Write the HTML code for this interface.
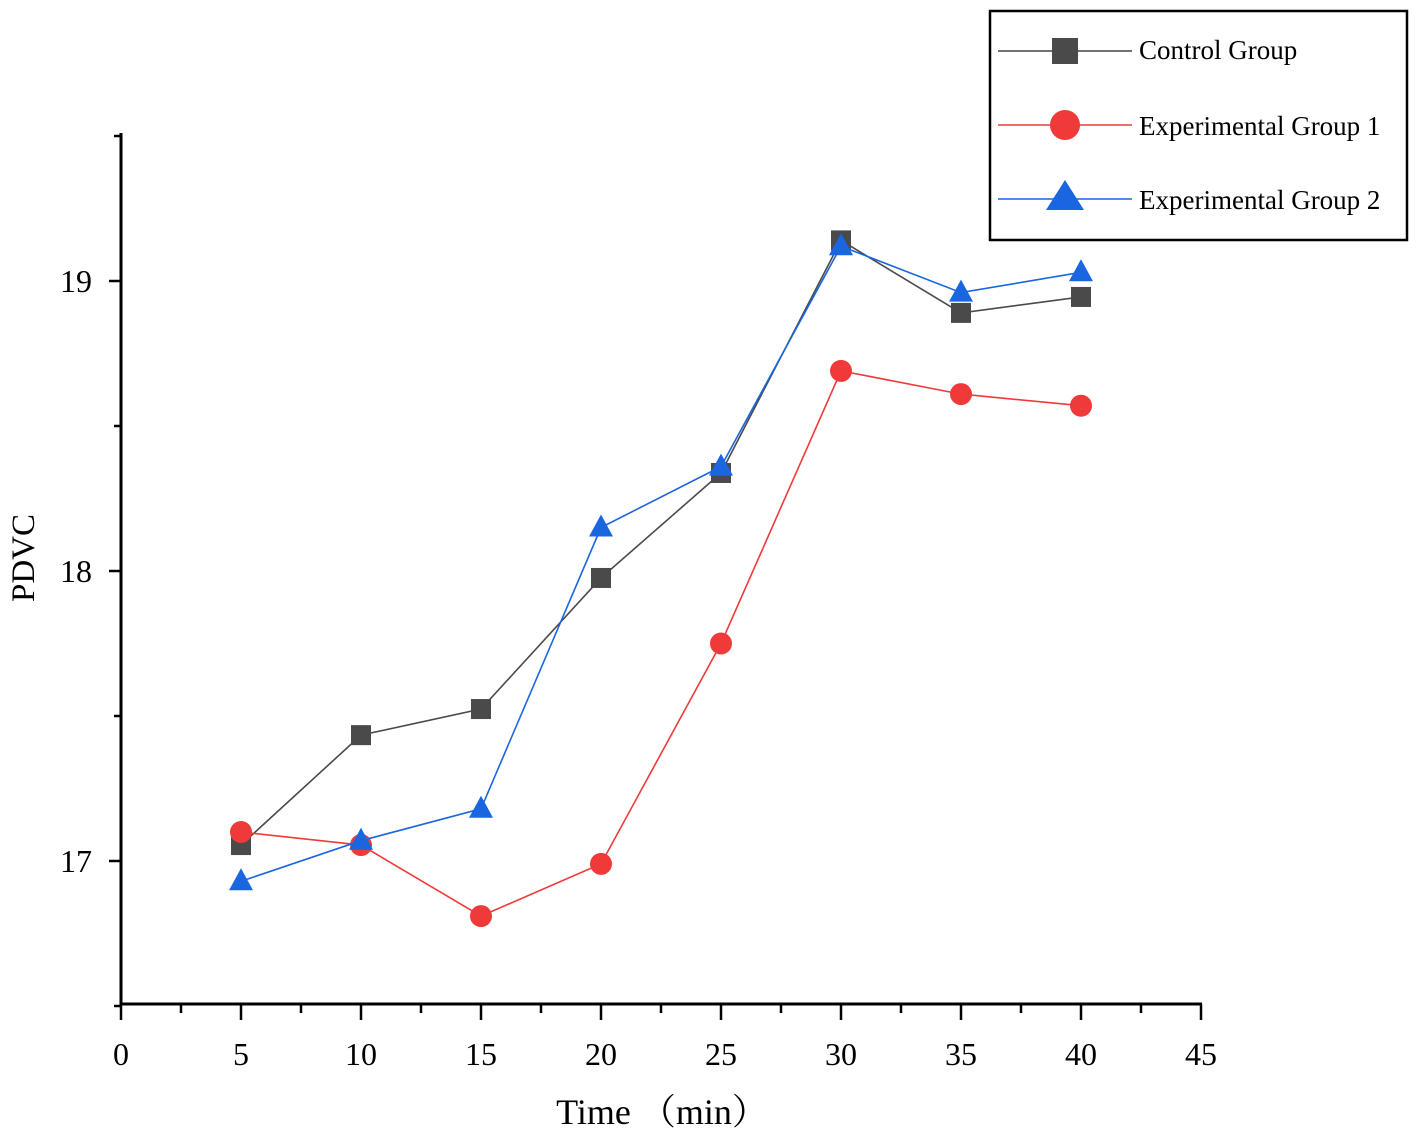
<!DOCTYPE html>
<html><head><meta charset="utf-8"><style>
body{margin:0;background:#fff}
svg{display:block;font-family:"Liberation Serif","Noto Serif CJK SC",serif}
</style></head><body>
<svg id="chart" width="1417" height="1139" viewBox="0 0 1417 1139" xmlns="http://www.w3.org/2000/svg">
<g id="axes"></g>
<g id="series"></g>
<text x="34" y="558" font-size="33" text-anchor="middle" transform="rotate(-90 34 558)">PDVC</text>
<text x="662" y="1124" font-size="36" text-anchor="middle">Time （min）</text>
<g>
<rect x="990" y="11" width="417" height="229" fill="#fff" stroke="#000" stroke-width="2.5"/>
<g>
<line x1="998" y1="51" x2="1132" y2="51" stroke="#444" stroke-width="1.5"/>
<rect x="1052" y="38" width="26" height="26" fill="#4a4a4a"/>
<text x="1139" y="59" font-size="27">Control Group</text></g>
<g>
<line x1="998" y1="125" x2="1132" y2="125" stroke="#f03a3a" stroke-width="1.5"/>
<circle cx="1065" cy="125" r="15" fill="#f03a3a"/>
<text x="1139" y="135" font-size="27">Experimental Group 1</text></g>
<g>
<line x1="998" y1="199" x2="1132" y2="199" stroke="#1a66e0" stroke-width="1.5"/>
<polygon points="1065,180 1084,210 1046,210" fill="#1a66e0"/>
<text x="1139" y="209" font-size="27">Experimental Group 2</text></g>
</g>
</svg>
<script>
const times=[5,10,15,20,25,30,35,40];
const controlVals=[17.055,17.434,17.524,17.976,18.338,19.14,18.89,18.945];
const exp1Vals=[17.10,17.055,16.81,16.99,17.75,18.69,18.61,18.57];
const exp2Vals=[16.93,17.07,17.18,18.15,18.36,19.12,18.96,19.03];
const xTicks=[0,5,10,15,20,25,30,35,40,45];
const yTicks=[17,18,19];
const NS="http://www.w3.org/2000/svg";
const X=v=>121+v*24;
const Y=v=>861-(v-17)*290;
function mk(tag,attrs,parent){const e=document.createElementNS(NS,tag);for(const k in attrs)e.setAttribute(k,attrs[k]);parent.appendChild(e);return e;}
const ax=document.getElementById('axes');
let l=mk('line',{x1:121,y1:133,x2:121,y2:1005,stroke:'#000','stroke-width':3},ax);


l=mk('line',{x1:119.5,y1:1004,x2:1202,y2:1004,stroke:'#000','stroke-width':3},ax);


for(let v=0;v<=45;v+=2.5){const major=v%5===0;mk('line',{x1:X(v),y1:1004,x2:X(v),y2:1004+(major?16:9),stroke:'#000','stroke-width':2.5},ax);}
xTicks.forEach(v=>{const t=mk('text',{x:X(v),y:1065,'font-size':32,'text-anchor':'middle'},ax);t.textContent=v;

});
for(let v=16.5;v<=19.5;v+=0.5){const major=Number.isInteger(v);mk('line',{x1:121,y1:Y(v),x2:121-(major?12:7),y2:Y(v),stroke:'#000','stroke-width':2.5},ax);}
yTicks.forEach(v=>{const t=mk('text',{x:92,y:Y(v)+11,'font-size':32,'text-anchor':'end'},ax);t.textContent=v;

});
const sg=document.getElementById('series');
function series(vals,color,shape,name){
 const g=mk('g',{},sg);
 
 
 mk('polyline',{points:vals.map((v,i)=>X(times[i])+','+Y(vals[i])).join(' '),fill:'none',stroke:color,'stroke-width':1.6},g);
 vals.forEach((v,i)=>{const x=X(times[i]),y=Y(v);let m;
  if(shape==='sq')m=mk('rect',{x:x-10,y:y-10,width:20,height:20,fill:color},g);
  else if(shape==='c')m=mk('circle',{cx:x,cy:y,r:11,fill:color},g);
  else m=mk('polygon',{points:`${x},${y-13} ${x+12},${y+9} ${x-12},${y+9}`,fill:color},g);
  
  });
}
series(controlVals,'#4a4a4a','sq','control-group-series');
series(exp1Vals,'#f03a3a','c','experimental-group-1-series');
series(exp2Vals,'#1a66e0','t','experimental-group-2-series');
</script>
</body></html>
